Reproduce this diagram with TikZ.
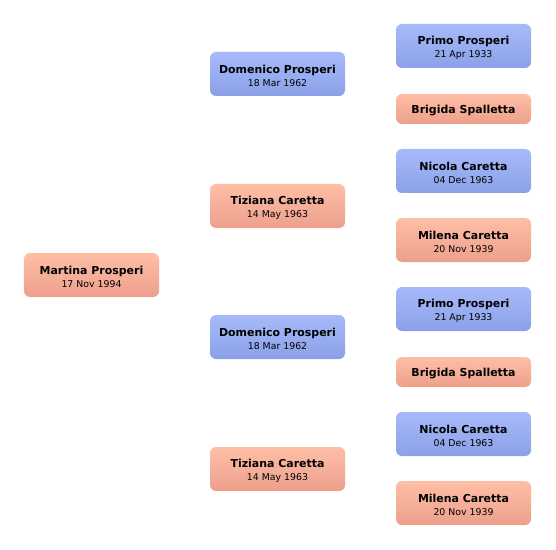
\documentclass[tikz,border=0pt]{standalone}
\usepackage{fontspec}
\setmainfont{DejaVu Sans}

\definecolor{maletop}{RGB}{166,186,250}
\definecolor{malebot}{RGB}{140,160,232}
\definecolor{femtop}{RGB}{255,190,166}
\definecolor{fembot}{RGB}{236,160,140}

\newcommand{\pname}[1]{\rule{0pt}{12bp}\textbf{#1}}
\newcommand{\bday}[1]{{\fontsize{9.4}{11}\selectfont #1}}

\begin{document}
\begin{tikzpicture}[x=1bp,y=-1bp,
  person/.style={rounded corners=6bp, minimum width=135bp, minimum height=44bp,
    inner sep=0pt, align=center, font=\fontsize{11}{12.4}\selectfont},
  male/.style={person, top color=maletop, bottom color=malebot},
  female/.style={person, top color=femtop, bottom color=fembot},
  single/.style={minimum height=30bp}]
  \useasboundingbox (0,0) rectangle (556,550);

  % generation 0
  \node[female] (martina) at (91.5,275) {\pname{Martina Prosperi}\\\bday{17 Nov 1994}};

  % generation 1
  \node[male]   (domenicoA) at (277.5,74)  {\pname{Domenico Prosperi}\\\bday{18 Mar 1962}};
  \node[female] (tizianaA)  at (277.5,206) {\pname{Tiziana Caretta}\\\bday{14 May 1963}};
  \node[male]   (domenicoB) at (277.5,337) {\pname{Domenico Prosperi}\\\bday{18 Mar 1962}};
  \node[female] (tizianaB)  at (277.5,469) {\pname{Tiziana Caretta}\\\bday{14 May 1963}};

  % generation 2
  \node[male]           (primoA)   at (463.5,46)  {\pname{Primo Prosperi}\\\bday{21 Apr 1933}};
  \node[female, single] (brigidaA) at (463.5,109) {\pname{Brigida Spalletta}};
  \node[male]           (nicolaA)  at (463.5,171) {\pname{Nicola Caretta}\\\bday{04 Dec 1963}};
  \node[female]         (milenaA)  at (463.5,240) {\pname{Milena Caretta}\\\bday{20 Nov 1939}};

  \node[male]           (primoB)   at (463.5,309) {\pname{Primo Prosperi}\\\bday{21 Apr 1933}};
  \node[female, single] (brigidaB) at (463.5,372) {\pname{Brigida Spalletta}};
  \node[male]           (nicolaB)  at (463.5,434) {\pname{Nicola Caretta}\\\bday{04 Dec 1963}};
  \node[female]         (milenaB)  at (463.5,503) {\pname{Milena Caretta}\\\bday{20 Nov 1939}};
\end{tikzpicture}
\end{document}
